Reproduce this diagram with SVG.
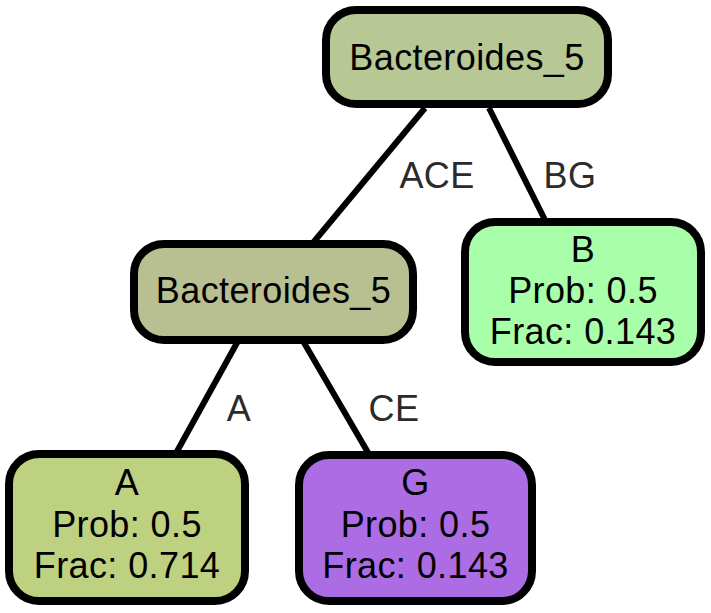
<svg xmlns="http://www.w3.org/2000/svg" width="711" height="613" viewBox="0 0 711 613">
  <style>
    .node rect { stroke: #000; stroke-width: 8; }
    .node text { font-family: "Liberation Sans", Arial, sans-serif; font-size: 36px; letter-spacing: 0.4px; fill: #000; text-anchor: middle; }
    .edge line { stroke: #000; stroke-width: 6; }
    .edge text { font-family: "Liberation Sans", Arial, sans-serif; font-size: 36px; letter-spacing: 0.4px; fill: #2b2b2b; text-anchor: middle; }
  </style>
  <rect width="711" height="613" fill="#fff"/>
  <g id="edges">
    <g class="edge">
      <line x1="425" y1="108" x2="312" y2="244"/>
      <text x="437" y="188">ACE</text>
    </g>
    <g class="edge">
      <line x1="489" y1="108" x2="546" y2="222"/>
      <text x="570" y="188">BG</text>
    </g>
    <g class="edge">
      <line x1="238" y1="341" x2="175" y2="455"/>
      <text x="239" y="421">A</text>
    </g>
    <g class="edge">
      <line x1="303" y1="341" x2="370" y2="456"/>
      <text x="394" y="421">CE</text>
    </g>
  </g>
  <g id="root" class="node">
    <rect x="326" y="10" width="282" height="94" rx="30" fill="#b7c895"/>
    <text x="467" y="70">Bacteroides_5</text>
  </g>
  <g id="inner" class="node">
    <rect x="134" y="244" width="279" height="96" rx="30" fill="#b8bf90"/>
    <text x="273.5" y="303">Bacteroides_5</text>
  </g>
  <g id="leafB" class="node">
    <rect x="465" y="222" width="236" height="140" rx="30" fill="#a8fea9"/>
    <text x="583" y="262">B</text>
    <text x="583" y="303">Prob: 0.5</text>
    <text x="583" y="344">Frac: 0.143</text>
  </g>
  <g id="leafA" class="node">
    <rect x="9" y="454" width="236" height="147" rx="30" fill="#bdd181"/>
    <text x="127" y="495">A</text>
    <text x="127" y="537">Prob: 0.5</text>
    <text x="127" y="578">Frac: 0.714</text>
  </g>
  <g id="leafG" class="node">
    <rect x="299" y="455" width="233" height="146" rx="30" fill="#ac6ce4"/>
    <text x="415.5" y="495">G</text>
    <text x="415.5" y="537">Prob: 0.5</text>
    <text x="415.5" y="578">Frac: 0.143</text>
  </g>
</svg>
